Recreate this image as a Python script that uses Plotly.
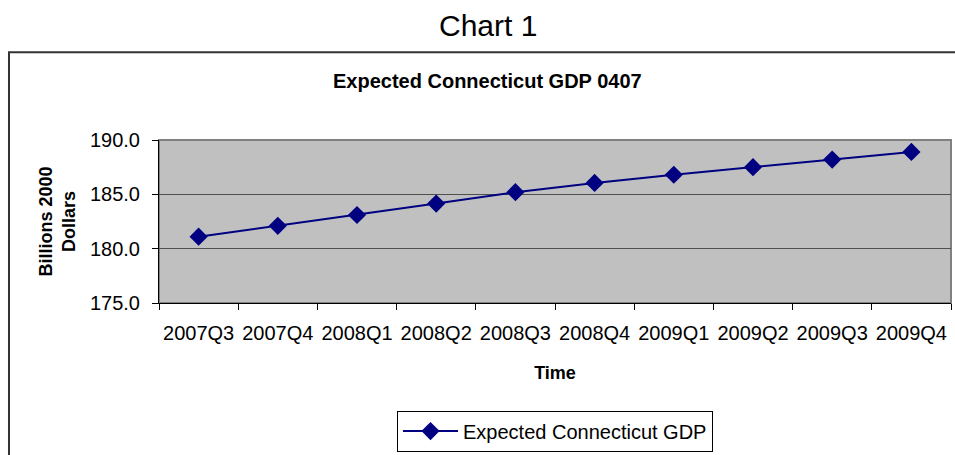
import plotly.graph_objects as go

quarters = ["2007Q3", "2007Q4", "2008Q1", "2008Q2", "2008Q3",
            "2008Q4", "2009Q1", "2009Q2", "2009Q3", "2009Q4"]
gdp = [181.1, 182.1, 183.1, 184.15, 185.2, 186.05, 186.8, 187.5, 188.2, 188.9]
y_ticks = [175.0, 180.0, 185.0, 190.0]

FONT = "Arial, Liberation Sans, sans-serif"

fig = go.Figure()
fig.add_trace(go.Scatter(
    x=quarters, y=gdp, mode="lines+markers",
    name="Expected Connecticut GDP",
    line=dict(color="#000080", width=2),
    marker=dict(symbol="diamond", size=14, color="#000080"),
))

fig.update_layout(
    width=955, height=455,
    margin=dict(l=159, r=4, t=140, b=150),
    paper_bgcolor="white", plot_bgcolor="#C0C0C0",
    font=dict(family=FONT, color="black", size=20),
    showlegend=True,
    legend=dict(
        x=0.5, xanchor="center", y=-0.66, yanchor="top",
        bordercolor="black", borderwidth=1, bgcolor="white",
        font=dict(size=20, family=FONT), itemwidth=55,
    ),
    xaxis=dict(
        type="category", range=[-0.5, 9.5], tickson="boundaries",
        ticks="outside", ticklen=6, tickcolor="black", tickangle=0,
        automargin=False,
        showline=True, linecolor="black", linewidth=1,
        showgrid=False, tickfont=dict(size=20), ticklabelstandoff=12,
        title=dict(text="<b>Time</b>", font=dict(size=18), standoff=23),
    ),
    yaxis=dict(
        range=[175, 190], tickvals=y_ticks, tickformat=".1f",
        ticks="outside", ticklen=6, tickcolor="black",
        automargin=False,
        showline=True, linecolor="black", linewidth=1,
        showgrid=True, gridcolor="#505050", gridwidth=1,
        zeroline=False, tickfont=dict(size=20), ticklabelstandoff=8,
        title=dict(text="<b>Billions 2000<br>Dollars</b>", font=dict(size=18), standoff=9),
    ),
    shapes=[
        dict(type="rect", xref="paper", yref="paper", x0=0, x1=1, y0=0, y1=1,
             line=dict(color="#808080", width=2), layer="below"),
        dict(type="rect", xref="paper", yref="paper",
             x0=-0.1894, x1=1.2, y0=-1.5, y1=1.539,
             line=dict(color="#333333", width=2), fillcolor="rgba(0,0,0,0)"),
    ],
    annotations=[
        dict(text="Chart 1", xref="paper", yref="paper", x=(488 - 159) / 792,
             y=1 + (140 - 24) / 165, xanchor="center", yanchor="middle",
             showarrow=False, font=dict(size=30, family=FONT)),
        dict(text="<b>Expected Connecticut GDP 0407</b>", xref="paper", yref="paper",
             x=(487 - 159) / 792, y=1 + (140 - 80) / 165,
             xanchor="center", yanchor="middle",
             showarrow=False, font=dict(size=20, family=FONT)),
    ],
)

fig.write_html("out.html")
